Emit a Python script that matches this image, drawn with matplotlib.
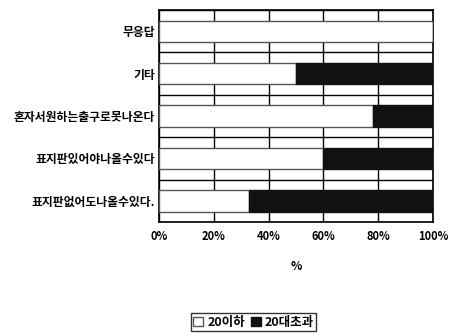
import matplotlib.pyplot as plt
import numpy as np

plt.rcParams['font.family'] = ['Noto Sans CJK KR', 'DejaVu Sans']

categories = ['표지판없어도나올수있다.', '표지판있어야나올수있다', '혼자서원하는출구로못나온다', '기타', '무응답']
under20 = [33, 60, 78, 50, 100]
over20 = [67, 40, 22, 50, 0]
xticks = [0, 20, 40, 60, 80, 100]

fig = plt.figure(figsize=(4.53, 3.34), dpi=100)
ax = fig.add_axes([0.351, 0.335, 0.605, 0.635])

y = np.arange(len(categories))
ax.barh(y, under20, height=0.5, color='white', edgecolor='#555555', linewidth=1.0,
        label='20이하', zorder=3)
ax.barh(y, over20, left=under20, height=0.5, color='#111111', edgecolor='#111111',
        linewidth=1.0, label='20대초과', zorder=3)

ax.set_xlim(0, 100)
ax.set_ylim(-0.5, len(categories) - 0.5)
ax.set_xticks(xticks)
ax.set_xticklabels([f'{t}%' for t in xticks], fontsize=8, fontweight='bold')
ax.set_yticks(y)
ax.set_yticklabels(categories, fontsize=8.5, fontweight='bold')
ax.tick_params(length=0, pad=3)
ax.tick_params(axis='x', pad=6)
ax.set_yticks(np.arange(-0.5, len(categories), 1), minor=True)
ax.tick_params(which='minor', length=0)
ax.grid(axis='x', color='black', linewidth=1.0, zorder=0)
ax.grid(axis='y', which='minor', color='black', linewidth=1.0, zorder=0)
for s in ax.spines.values():
    s.set_color('black')
    s.set_linewidth(1.2)

ax.set_xlabel('%', fontsize=8.5, fontweight='bold', labelpad=12)

fig.legend(loc='center', bbox_to_anchor=(0.56, 0.035), ncol=2,
           frameon=True, fancybox=False, edgecolor='black', handlelength=0.8,
           handletextpad=0.3, columnspacing=0.5, borderpad=0.2,
           prop={'weight': 'bold', 'size': 9})

fig.savefig('out.png', dpi=100)
